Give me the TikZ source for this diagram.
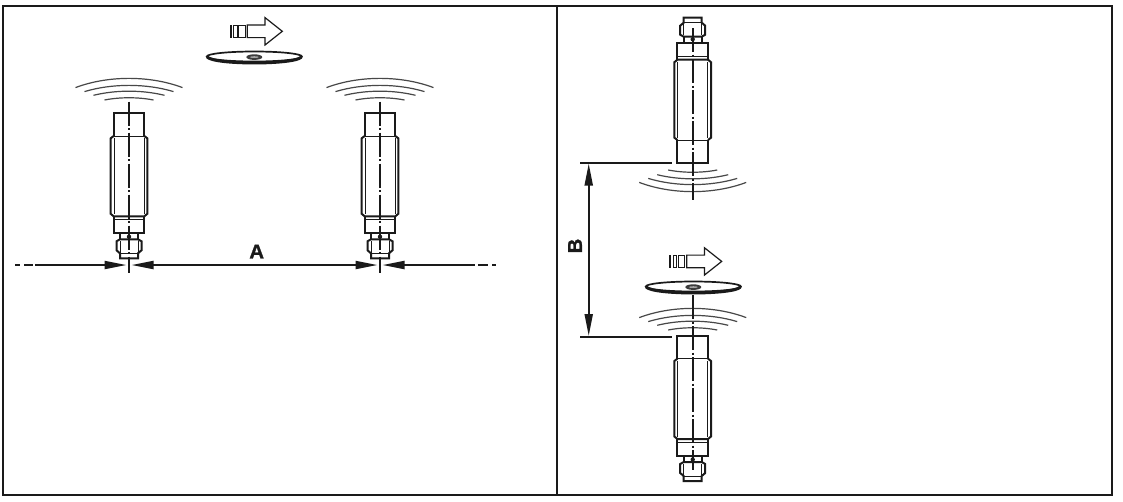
\documentclass[tikz,border=0pt]{standalone}
\usepackage{fontspec}
\setmainfont{Liberation Sans}
\newfontface\labelface[FakeStretch=1.02,FakeBold=1.2]{Liberation Sans Bold}
\usetikzlibrary{arrows.meta}
\definecolor{ink}{HTML}{1A1A1A}
\tikzset{
  frameline/.style={draw=ink,line width=2pt},
  outline/.style={draw=ink,line width=2pt,line join=miter},
  thinline/.style={draw=ink,line width=0.9pt},
  waveline/.style={draw=ink!80,line width=1.2pt},
  axisline/.style={draw=ink,line width=1.6pt,dash pattern=on 24pt off 2.5pt on 2pt off 2.5pt},
  dimline/.style={draw=ink,line width=2pt},
  tip/.style={{Triangle[length=22pt,width=8pt,inset=0pt]}-{Triangle[length=22pt,width=8pt,inset=0pt]}},
  tipend/.style={-{Triangle[length=22pt,width=8pt,inset=0pt]}},
  tipstart/.style={{Triangle[length=22pt,width=8pt,inset=0pt]}-},
  dimlabel/.style={font=\labelface\fontsize{20}{20}\selectfont,text=ink,inner sep=0pt},
  pics/sensor/.style={code={
    % origin at centre of sensing face; +y towards connector
    \draw[outline] (-15.3,22.7) -- (-15.3,0) -- (15.3,0) -- (15.3,22.7);
    \draw[thinline] (-15.3,22.7) -- (15.3,22.7);
    \draw[outline] (-15.3,22.7) -- (-18.3,25) -- (-18.3,100.5) -- (-15.3,103) -- (15.3,103) -- (18.3,100.5) -- (18.3,25) -- (15.3,22.7);
    \draw[thinline] (-15,25) -- (-15,100.5) (15,25) -- (15,100.5);
    \draw[thinline] (-15.3,106) -- (15.3,106);
    \draw[outline] (-15.3,103) -- (-15.3,119.5) -- (15.3,119.5) -- (15.3,103);
    \draw[outline] (-9,119.5) -- (-9,126) (9,119.5) -- (9,126);
    \draw[outline] (-9,126) -- (-12.5,128) -- (-12.5,137) -- (-9,140) -- (-9,145) -- (9,145) -- (9,140) -- (12.5,137) -- (12.5,128) -- (9,126) -- cycle;
    \draw[thinline] (-9,128) -- (-9,140) (9,128) -- (9,140) (-9,140) -- (9,140);
    \fill[ink] (0,123.5) circle (2.2pt);
  }},
  pics/waves/.style={code={
    % four arcs, apex offsets measured from the origin outward (-y)
    \draw[waveline] (-24.5,#1+2.7) .. controls (-9,#1-0.3) and (9,#1-0.3) .. (24.5,#1+2.7);
    \draw[waveline] (-35.5,#1-2) .. controls (-13,#1-7.5) and (13,#1-7.5) .. (35.5,#1-2);
    \draw[waveline] (-44.5,#1-5.7) .. controls (-17,#1-14) and (17,#1-14) .. (44.5,#1-5.7);
    \draw[waveline] (-53.5,#1-9.7) .. controls (-21,#1-22) and (21,#1-22) .. (53.5,#1-9.7);
  }},
  pics/disc/.style={code={
    \draw[draw=ink,line width=1.7pt,fill=white] (0,-1.2) ellipse (47.5 and 5);
    \draw[draw=ink,line width=3pt,line cap=round] (-47,-0.6) .. controls (-40,7.2) and (40,7.2) .. (47,-0.6);
    \fill[ink!85] (0,-0.6) ellipse (8 and 2.8);
    \fill[white!60!ink] (0,-0.6) ellipse (4.5 and 0.9);
  }},
  pics/motion/.style={code={
    \draw[draw=ink,line width=1.2pt,fill=white,line join=miter] (-7,-6.3) -- (10.7,-6.3) -- (10.7,-13.7) -- (28,0) -- (10.7,13.7) -- (10.7,6.3) -- (-7,6.3) -- cycle;
    \draw[draw=ink,line width=1pt] (-15.5,-6.3) rectangle (-9,6.3);
    \draw[draw=ink,line width=1pt] (-20.5,-6.3) rectangle (-16.8,6.3);
    \fill[ink] (-24.5,-6.8) rectangle (-22.5,6.8);
  }}
}
\begin{document}
\begin{tikzpicture}[x=1pt,y=-1pt]
\useasboundingbox (0,0) rectangle (1123,501);
\fill[white] (0,0) rectangle (1123,501);
% frame
\draw[frameline] (3,6) rectangle (1112,495);
\draw[frameline] (557,6) -- (557,495);

% left panel
\coordinate (lax) at (129,113.3);
\coordinate (rax) at (380,113.3);
\pic at (lax) {sensor};
\pic at (rax) {sensor};
\pic at (lax) {waves=-16};
\pic at (rax) {waves=-16};
\coordinate (l1) at (129,101.7); \coordinate (l2) at (129,273);
\coordinate (r1) at (380,101.7); \coordinate (r2) at (380,273);
\draw[axisline] (l1) -- (l2);
\draw[axisline] (r1) -- (r2);
\pic at (254.3,57.7) {disc};
\pic at (254.3,31.3) {motion};
\coordinate (a0) at (15,265);  \coordinate (a1) at (126.5,265);
\coordinate (a2) at (131.5,265); \coordinate (a3) at (377.5,265);
\coordinate (a4) at (382.5,265); \coordinate (a5) at (496,265);
\coordinate (a6) at (35,265); \coordinate (a7) at (475,265);
\draw[dimline,dash pattern=on 5pt off 4pt on 9pt off 2pt] (a0) -- (a6);
\draw[dimline,tipend] (a6) -- (a1);
\draw[dimline,tip] (a2) -- (a3);
\draw[dimline,tipstart] (a4) -- (a7);
\draw[dimline,dash pattern=on 0pt off 3pt on 10pt off 4pt on 4pt off 3pt] (a7) -- (a5);
\node[dimlabel] (labelA) at (256.7,251.5) {A};

% right panel
\coordinate (t0) at (692.7,162.7);
\pic[yscale=-1] at (t0) {sensor};
\pic[yscale=-1] at (t0) {waves=-10};
\coordinate (t1) at (692.7,28); \coordinate (t2) at (692.7,200);
\draw[axisline] (t1) -- (t2);
\coordinate (b0) at (692.7,336);
\pic at (b0) {sensor};
\pic at (b0) {waves=-8.7};
\coordinate (b1) at (692.7,295); \coordinate (b2) at (692.7,470);
\draw[axisline] (b1) -- (b2);
\pic at (693.3,287.7) {disc};
\pic at (693.7,261.4) {motion};

\coordinate (e1) at (580,162.7); \coordinate (e2) at (671.7,162.7);
\coordinate (e3) at (580,336.7); \coordinate (e4) at (671.7,336.7);
\coordinate (d1) at (588.7,163.5); \coordinate (d2) at (588.7,336);
\draw[dimline] (e1) -- (e2);
\draw[dimline] (e3) -- (e4);
\draw[dimline,tip] (d1) -- (d2);
\node[dimlabel,rotate=90] (labelB) at (575,246) {B};
\end{tikzpicture}
\end{document}
